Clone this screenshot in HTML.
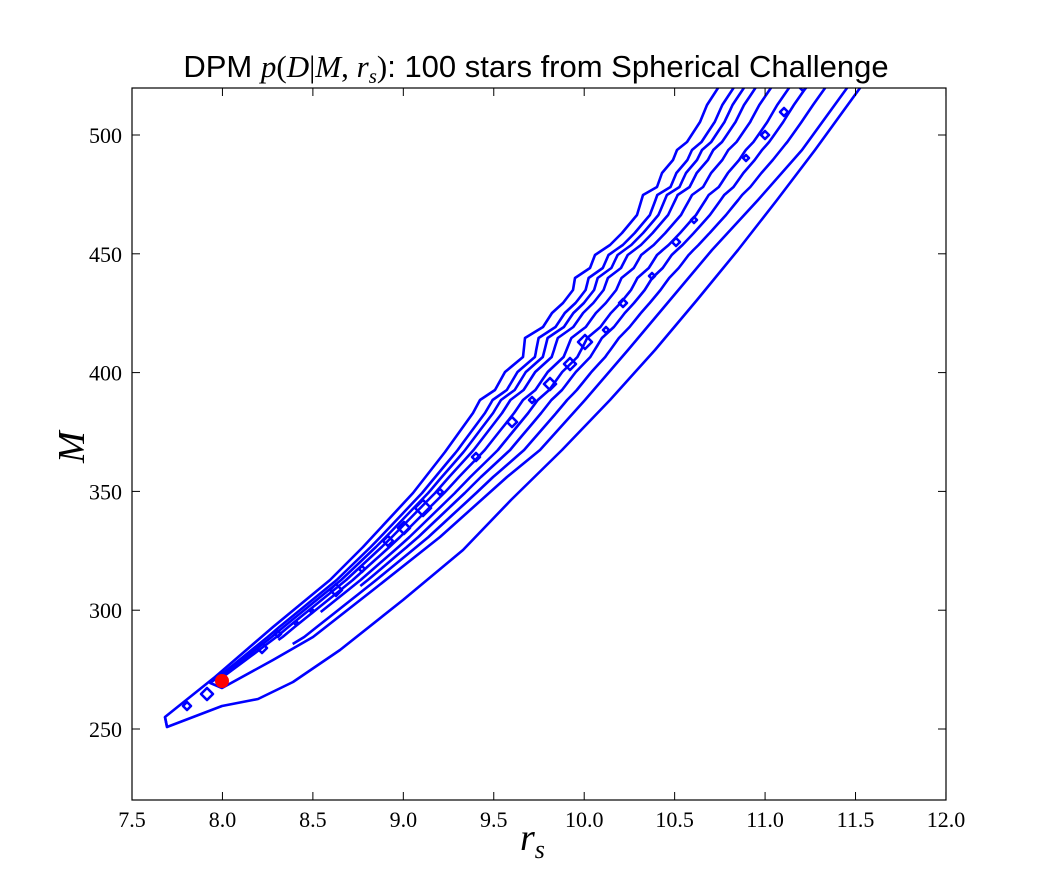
<!DOCTYPE html>
<html><head><meta charset="utf-8"><style>
body{margin:0;background:#fff;width:1052px;height:890px;overflow:hidden}
svg text{font-family:"Liberation Serif",serif}
</style></head><body>
<svg id="s" width="1052" height="890" xmlns="http://www.w3.org/2000/svg">
<defs><clipPath id="c"><rect x="132" y="88" width="814" height="712"/></clipPath></defs>
<rect width="1052" height="890" fill="#fff"/>
<g id="cont" clip-path="url(#c)" fill="none" stroke="#0000ff" stroke-width="2.6" stroke-linejoin="round"></g>
<circle cx="222" cy="681" r="7" fill="#ff0000"/>
<rect x="132" y="88" width="814" height="712" fill="none" stroke="#000" stroke-width="1.2"/>
<g id="ticks" stroke="#000" stroke-width="1"></g>
<g id="lab" font-size="22" fill="#000"></g>
<text x="536" y="77" text-anchor="middle" font-size="31" style="font-family:'Liberation Sans',sans-serif">DPM <tspan font-style="italic" style="font-family:'Liberation Serif',serif">p</tspan><tspan style="font-family:'Liberation Serif',serif">(<tspan font-style="italic">D</tspan>|<tspan font-style="italic">M</tspan>, <tspan font-style="italic">r</tspan><tspan font-size="21" dy="6" font-style="italic">s</tspan><tspan dy="-6">)</tspan></tspan>: 100 stars from Spherical Challenge</text>
<text x="520" y="850" font-size="38" font-style="italic">r<tspan font-size="26" dy="8">s</tspan></text>
<text transform="translate(84,463) rotate(-90)" font-size="38" font-style="italic">M</text>
</svg>
<script>
var NS="http://www.w3.org/2000/svg";
var R1=[[167,727],[222,706],[258,699],[293,682],[340,650],[403,600],[463,550],[511,500],[562,450],[610,400],[655,350],[697,300],[738,250],[777,200],[815,150],[860,88],[880,60]];
var R2=[[222,688],[273,660],[313,637],[373,590],[440,537],[507,477],[540,450],[585,400],[628,350],[670,300],[712,250],[758,200],[802,150],[847,88],[870,60]];
var L1=[[165,717],[215,677],[273,627],[330,580],[363,547],[413,493],[445,452],[473,413],[480,400],[495,390],[505,372],[523,357],[525,338],[543,327],[552,313],[563,303],[573,290],[575,278],[590,268],[595,255],[610,245],[622,233],[637,215],[643,195],[657,187],[662,173],[673,160],[677,150],[687,142],[700,122],[707,105],[718,88],[730,70]];
function xAt(P,y){if(y>=P[0][1])return P[0][0];for(var i=0;i<P.length-1;i++){var a=P[i],b=P[i+1];if(y<=a[1]&&y>=b[1]){var t=(a[1]-y)/(a[1]-b[1]);return a[0]+t*(b[0]-a[0]);}}return P[P.length-1][0];}
var g=document.getElementById('cont');
function path(d,w){var p=document.createElementNS(NS,'path');p.setAttribute('d',d);if(w)p.setAttribute('stroke-width',w);g.appendChild(p);}
function pl(P){return P.map(function(p,i){return (i?'L':'M')+p[0].toFixed(1)+','+p[1].toFixed(1)}).join('');}
path(pl(R1.slice().reverse())+pl(L1).replace('M','L'));
path('M167,727L165,717');
function frac(f,y0){var pts=[];var ys=[];L1.forEach(function(p){if(p[1]<=y0)ys.push(p[1]);});R2.forEach(function(p){if(p[1]<=y0)ys.push(p[1]);});for(var y=y0;y>=60;y-=10)ys.push(y);ys.push(y0);ys=ys.filter(function(v,i,a){return a.indexOf(v)===i;}).sort(function(a,b){return b-a;});ys.forEach(function(y){var a=xAt(L1,y),b=xAt(R2,y);pts.push([a+f*(b-a),y]);});return pts;}
path(pl(R2.slice().reverse())+pl([[222,688]]).replace('M','L')+pl(frac(0.12,683)).replace('M','L'));
path(pl(frac(0.2,680)));
path(pl(frac(0.29,676)));
path(pl(frac(0.41,640)));
path(pl(frac(0.55,612)));
path(pl(frac(0.68,586)));
path(pl(frac(0.83,644)));
var bl=[[187,706,4],[207,694,6],[262,648,5],[278,634,3],[296,623,2],[312,611,2],[336,590,6],[362,569,3],[388,541,5],[404,528,6],[423,508,8],[440,492,3],[476,457,4],[512,422,5],[532,400,3],[550,384,6],[570,364,6],[585,342,7],[606,330,3],[623,303,4],[652,276,3],[676,242,4],[694,220,3],[746,158,3],[765,135,4],[784,112,4],[803,88,3]];
bl.forEach(function(b){var r=b[2];path('M'+(b[0]-r)+','+b[1]+'l'+r+','+(-r)+'l'+r+','+r+'l'+(-r)+','+r+'z');});
var t=document.getElementById('ticks'),lb=document.getElementById('lab');
function ln(x1,y1,x2,y2){var l=document.createElementNS(NS,'line');l.setAttribute('x1',x1);l.setAttribute('y1',y1);l.setAttribute('x2',x2);l.setAttribute('y2',y2);t.appendChild(l);}
function tx(x,y,s,a){var e=document.createElementNS(NS,'text');e.setAttribute('x',x);e.setAttribute('y',y);e.setAttribute('text-anchor',a);e.textContent=s;lb.appendChild(e);}
for(var i=0;i<=9;i++){var x=132+i*90.44;ln(x,800,x,792);ln(x,88,x,96);tx(x,827,(7.5+i*0.5).toFixed(1),'middle');}
for(var v=250;v<=500;v+=50){var y=729-(v-250)*2.376;ln(132,y,140,y);ln(946,y,938,y);tx(122,y+8,v,'end');}
</script>
</body></html>
